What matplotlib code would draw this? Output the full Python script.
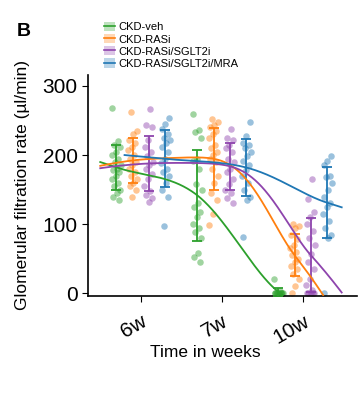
import numpy as np
import matplotlib
matplotlib.use("Agg")
import matplotlib.pyplot as plt
from matplotlib.patches import Patch
from matplotlib.lines import Line2D

plt.rcParams["font.family"] = ["Liberation Sans", "DejaVu Sans"]

# time points and treatment groups
weeks = ["6w", "7w", "10w"]
week_num = [6, 7, 10]
groups = ["CKD-veh", "CKD-RASi", "CKD-RASi/SGLT2i", "CKD-RASi/SGLT2i/MRA"]
colors = ["#2ca02c", "#ff7f0e", "#8e44ad", "#1f77b4"]

# GFR values (ul/min), per group and week
veh_6w = [268, 220, 215, 212, 205, 200, 195, 190, 185, 180, 178, 175, 170, 165, 160, 155, 150, 145, 140, 135]
veh_7w = [260, 237, 233, 225, 195, 192, 180, 158, 150, 130, 125, 118, 110, 100, 95, 88, 80, 58, 52, 45]
veh_10w = [21, 3, 0, 0, 0, 0, 0, 0, 0, 0, 0, 0]

rasi_6w = [263, 235, 230, 222, 218, 212, 208, 200, 195, 190, 185, 180, 175, 170, 165, 160, 155, 150, 140]
rasi_7w = [252, 248, 244, 240, 235, 230, 225, 215, 210, 205, 200, 195, 190, 180, 170, 160, 145, 135, 115, 99]
rasi_10w = [100, 98, 95, 85, 78, 70, 65, 60, 55, 50, 45, 40, 35, 28, 20, 10, 0]

sglt_6w = [267, 243, 240, 222, 212, 205, 198, 190, 185, 180, 172, 165, 155, 148, 142, 138, 132]
sglt_7w = [238, 225, 222, 215, 210, 205, 195, 190, 180, 175, 165, 158, 150, 145, 138, 130]
sglt_10w = [166, 137, 118, 110, 100, 90, 80, 70, 57, 45, 35, 20, 12, 5, 0, 0, 0, 0, 0]

mra_6w = [253, 245, 238, 230, 225, 222, 218, 212, 205, 195, 188, 180, 175, 170, 160, 150, 140, 97]
mra_7w = [248, 228, 218, 215, 210, 205, 198, 192, 185, 178, 170, 160, 150, 140, 135, 81]
mra_10w = [198, 192, 185, 170, 168, 160, 150, 140, 130, 125, 115, 105, 95, 85, 80, 0]

data = [
    [veh_6w, veh_7w, veh_10w],
    [rasi_6w, rasi_7w, rasi_10w],
    [sglt_6w, sglt_7w, sglt_10w],
    [mra_6w, mra_7w, mra_10w],
]

dodge = [-0.3, -0.1, 0.1, 0.3]
curve_start = [0.5, 0.5, 0.5, 0.8]
curve_end = 3.48


def pos_to_week(u):
    # smooth monotone map from category index (0, 1, 2) to week number
    knots = np.arange(len(week_num), dtype=float)
    t = np.array(week_num, dtype=float)
    m = np.array([1.0, 2.2, 1.8])
    u = np.asarray(u, dtype=float)
    out = np.empty_like(u)
    lo, hi = u < knots[0], u > knots[-1]
    out[lo] = t[0] + m[0] * (u[lo] - knots[0])
    out[hi] = t[-1] + m[-1] * (u[hi] - knots[-1])
    mid = ~(lo | hi)
    k = np.clip(np.floor(u[mid]).astype(int), 0, len(knots) - 2)
    s = u[mid] - knots[k]
    h00 = 2 * s**3 - 3 * s**2 + 1
    h10 = s**3 - 2 * s**2 + s
    h01 = -2 * s**3 + 3 * s**2
    h11 = s**3 - s**2
    out[mid] = h00 * t[k] + h10 * m[k] + h01 * t[k + 1] + h11 * m[k + 1]
    return out


fig = plt.figure(figsize=(3.64, 4.05), dpi=100)
ax = fig.add_axes([0.242, 0.269, 0.739, 0.546])

xpos = np.arange(1, len(weeks) + 1)
for g, (name, col) in enumerate(zip(groups, colors)):
    tt, yy_all = [], []
    for w, vals in enumerate(data[g]):
        vals = np.array(vals, dtype=float)
        centre = xpos[w] + dodge[g]
        jit = ((np.arange(len(vals)) * 0.618 + g * 0.3) % 1 - 0.5) * 0.12
        ax.scatter(centre + jit, vals, s=22, color=col, alpha=0.45, lw=0, zorder=2)
        m, sd = vals.mean(), vals.std(ddof=1)
        ax.errorbar(centre, m, yerr=sd, color=col, lw=1.3, capsize=3.5,
                    capthick=1.3, zorder=3)
        tt.extend([week_num[w]] * len(vals))
        yy_all.extend(vals)
    # quadratic trend in time, drawn on the category axis
    coef = np.polyfit(tt, yy_all, 2)
    xx = np.linspace(curve_start[g], curve_end, 300)
    yy = np.polyval(coef, pos_to_week(xx - 1 - dodge[g]))
    keep = yy >= -3
    ax.plot(xx[keep], yy[keep], color=col, lw=1.3, zorder=4)

ax.set_xlim(0.35, 3.67)
ax.set_ylim(-4, 316)
ax.set_yticks([0, 100, 200, 300])
ax.set_xticks(xpos)
ax.set_xticklabels(weeks, rotation=30, ha="right", rotation_mode="anchor")
ax.tick_params(labelsize=15, length=4, width=0.8)
ax.tick_params(axis="x", pad=7)
for s in ["top", "right"]:
    ax.spines[s].set_visible(False)
ax.spines["left"].set_linewidth(1.2)
ax.spines["bottom"].set_linewidth(1.2)

ax.set_ylabel("Glomerular filtration rate (µl/min)", fontsize=12.5, labelpad=9)
ax.set_xlabel("Time in weeks", fontsize=12.5)
ax.xaxis.set_label_coords(0.435, -0.222)

handles = [(Patch(facecolor=c, alpha=0.3, edgecolor="none"), Line2D([], [], color=c, lw=1.2))
           for c in colors]
fig.legend(handles, groups, loc="upper left", bbox_to_anchor=(0.265, 0.965),
           frameon=False, fontsize=8, handlelength=1.0, handleheight=0.9,
           handletextpad=0.3, labelspacing=0.15, borderpad=0.2)

fig.text(0.045, 0.91, "B", fontsize=14, fontweight="bold")

fig.savefig("out.png", dpi=100)
